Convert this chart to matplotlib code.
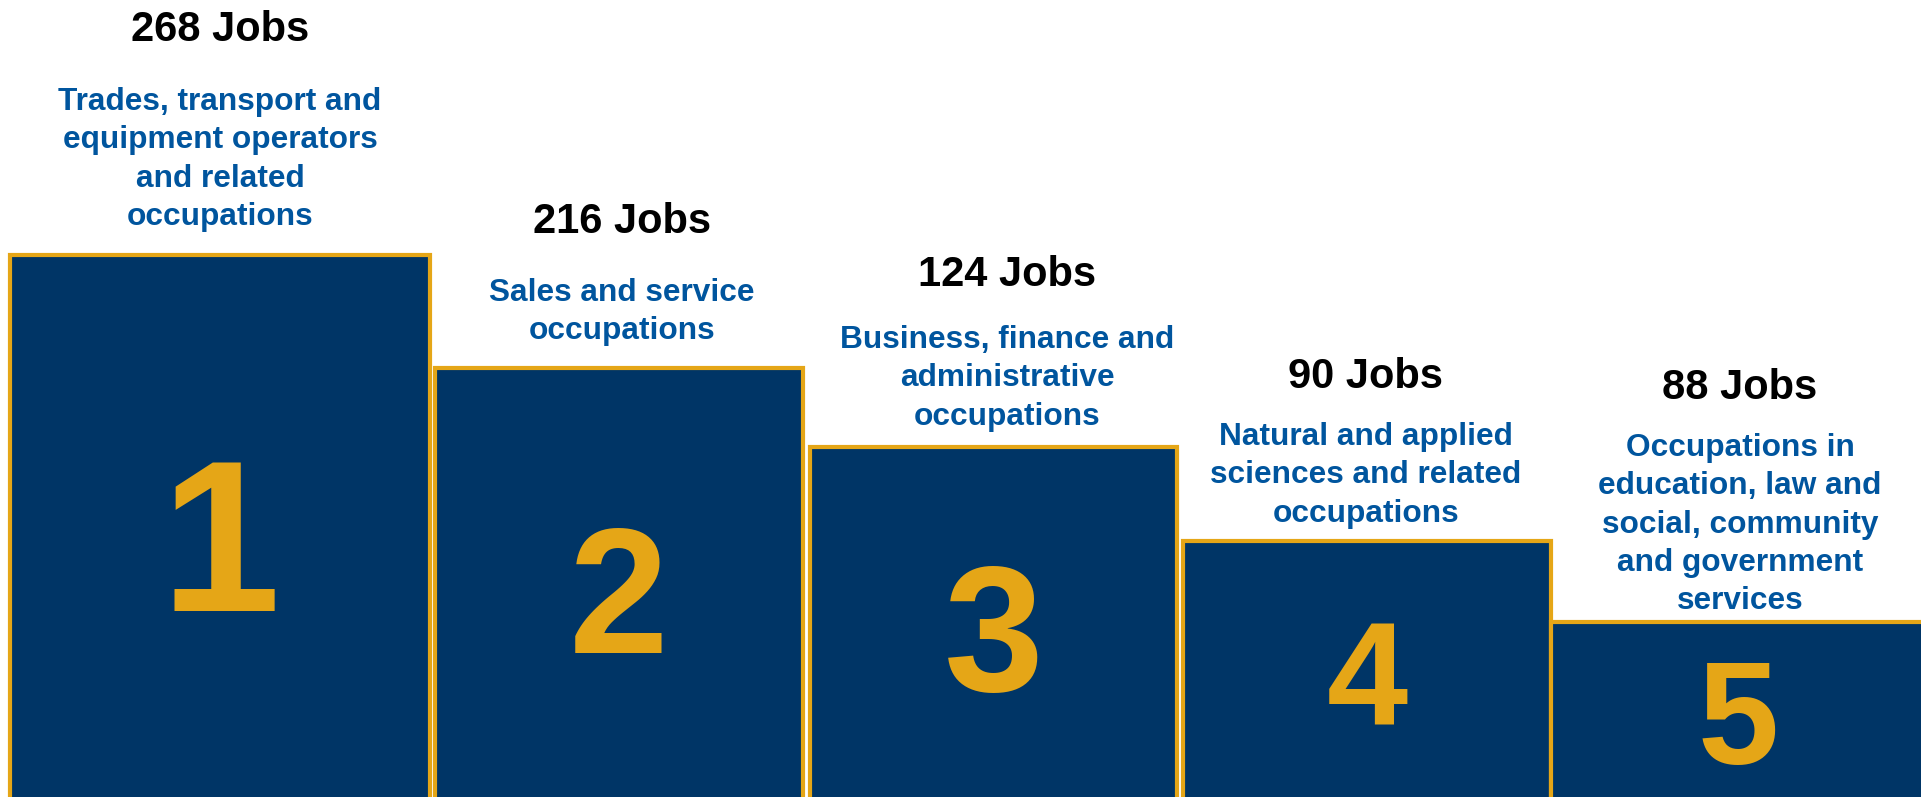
import matplotlib.pyplot as plt

# data
ranks = ['1', '2', '3', '4', '5']
jobs = [268, 216, 124, 90, 88]
occupations = [
    'Trades, transport and\nequipment operators\nand related\noccupations',
    'Sales and service\noccupations',
    'Business, finance and\nadministrative\noccupations',
    'Natural and applied\nsciences and related\noccupations',
    'Occupations in\neducation, law and\nsocial, community\nand government\nservices',
]
# podium step heights (decorative, not to scale with jobs)
step_heights = [542, 429, 350, 256, 175]

# layout (pixel units of the 1921x797 canvas)
W, H = 1921, 797
bar_left = [10, 435, 810, 1183, 1551]
bar_width = [420, 368, 367, 368, 374]
rank_size = [155, 129, 129, 105, 105]
text_x = [220, 622, 1007, 1366, 1740]
label_top = [87, 278, 325, 422, 433]
jobs_top = [10, 202, 255, 357, 368]

navy = '#003566'
gold = '#E5A617'
blue = '#00559E'

plt.rcParams['font.family'] = ['Liberation Sans', 'DejaVu Sans']

fig = plt.figure(figsize=(W / 100, H / 100), dpi=100)
ax = fig.add_axes([0, 0, 1, 1])
ax.set_xlim(0, W)
ax.set_ylim(0, H)
ax.axis('off')

ax.bar(bar_left, [h + 20 for h in step_heights], width=bar_width, bottom=-20,
       align='edge', color=navy, edgecolor=gold, linewidth=3)

for i in range(len(ranks)):
    cx = bar_left[i] + bar_width[i] / 2
    # big rank number, centred on ~48% of the step height
    digit_px = rank_size[i] / 72 * 100 * 0.716
    base = step_heights[i] * 0.485 - digit_px / 2
    ax.text(cx, base, ranks[i], ha='center', va='baseline',
            fontsize=rank_size[i], fontweight='bold', color=gold)
    ax.text(text_x[i], H - jobs_top[i], f'{jobs[i]} Jobs', ha='center', va='top',
            fontsize=30, fontweight='bold', color='black')
    ax.text(text_x[i], H - label_top[i], occupations[i], ha='center', va='top',
            fontsize=22.8, fontweight='bold', color=blue, linespacing=1.36)

fig.savefig('out.png', dpi=100)
